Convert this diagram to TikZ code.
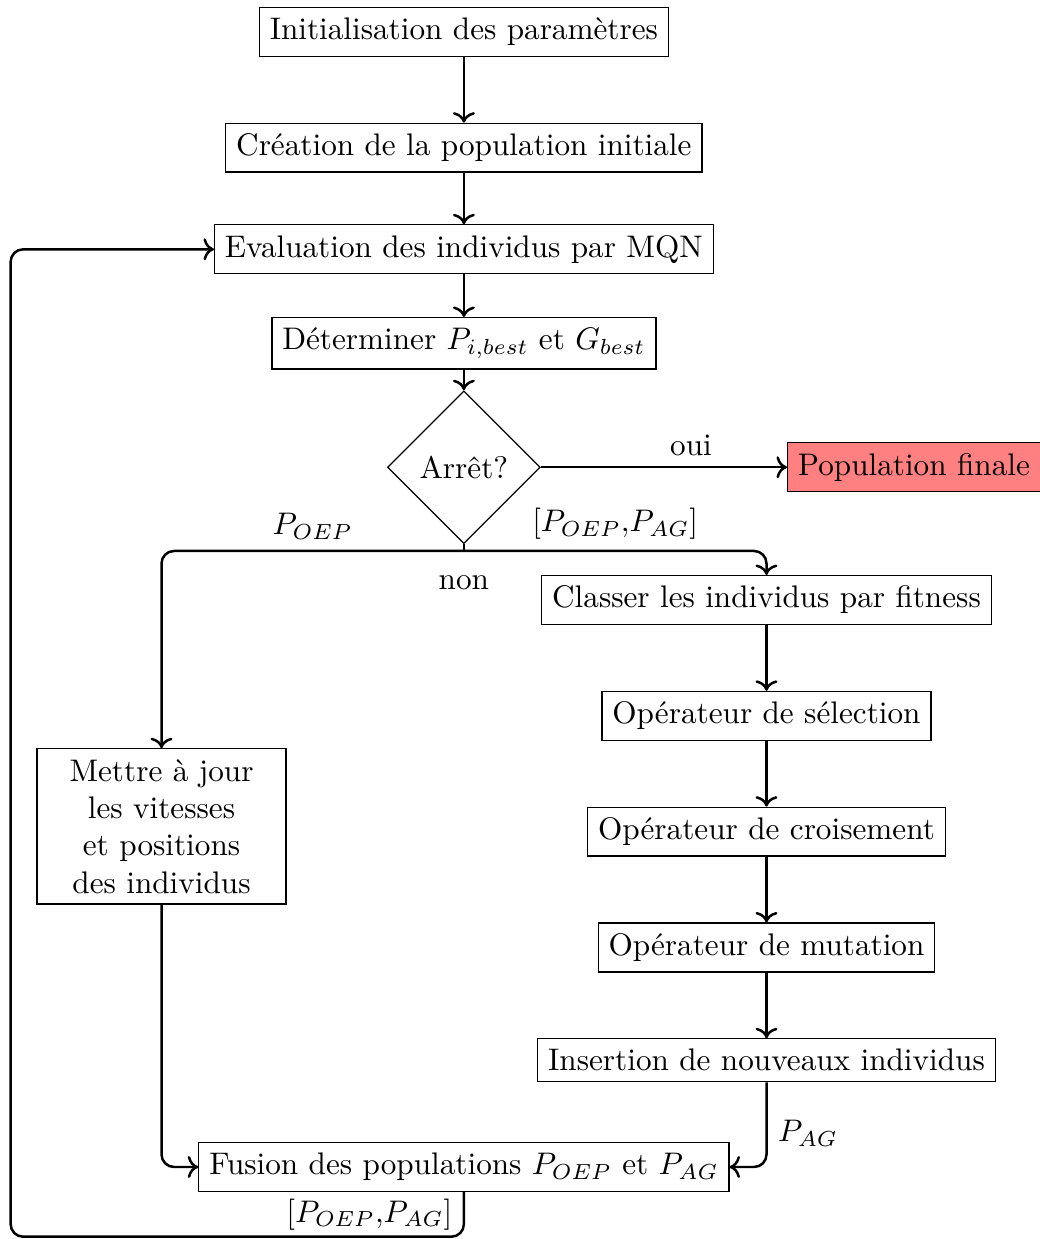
\documentclass[tikz,border=0pt]{standalone}
\usepackage{fontspec}
\usepackage{amsmath}
\usepackage{tikz}
\usetikzlibrary{arrows.meta, shapes.geometric, positioning}
\tikzset{
  etape/.style={
    rectangle, draw, thin,
    text centered
  },
  decision/.style={
    diamond, draw, thin, aspect=1,
    text centered
  },
  fleche/.style={->, thick},
  boucle/.style={->, thick, rounded corners},
}

\begin{document}
\begin{tikzpicture}[node distance=0.74cm]
  \useasboundingbox (0,0) rectangle (11.712,-13.953);
  % colonne principale
  \node[etape](init) at (5.224,-0.360){Initialisation des paramètres};
  \node[etape,below=0.74cm of init](crea){Création de la population initiale};
  \node[etape,below=0.58cm of crea](eval){Evaluation des individus par MQN};
  \node[etape,below=0.48cm of eval](det){Déterminer $P_{i,best}$ et $G_{best}$};
  \node[decision,below=0.23cm of det](arret){Arrêt?};
  \node[etape,fill=red!50,right=2.77cm of arret](popfin){Population finale};
  \coordinate[below=0.075cm of arret.south](split);
  \node[below=0.15cm of split](non){non};
  % branche AG
  \node[etape](classer) at (8.632,-6.757){Classer les individus par fitness};
  \node[etape,below=of classer](selec){Opérateur de sélection};
  \node[etape,below=of selec](crois){Opérateur de croisement};
  \node[etape,below=of crois](mutat){Opérateur de mutation};
  \node[etape,below=of mutat](insert){Insertion de nouveaux individus};
  % branche OEP
  \node[etape,text width=2.57cm,align=center](maj) at (1.819,-9.307)
       {Mettre à jour\\les vitesses\\et positions\\des individus};
  \node[etape](fusion) at (5.224,-13.142){Fusion des populations $P_{OEP}$ et $P_{AG}$};
  \coordinate(retour) at (0.12,-13.927);
  % fleches
  \draw[fleche](init.south)--(crea.north);
  \draw[fleche](crea.south)--(eval.north);
  \draw[fleche](eval.south)--(det.north);
  \draw[fleche](det.south)--(arret.north);
  \draw[fleche](arret.east)--node[above,pos=0.61]{oui}(popfin.west);
  \draw[thick](arret.south)--(split);
  \draw[boucle](split)-|node[above,pos=0.25]{$P_{OEP}$}(maj.north);
  \draw[boucle](split)-|node[above,pos=0.25]{$[P_{OEP}{,}P_{AG}]$}(classer.north);
  \draw[fleche](classer.south)--(selec.north);
  \draw[fleche](selec.south)--(crois.north);
  \draw[fleche](crois.south)--(mutat.north);
  \draw[fleche](mutat.south)--(insert.north);
  \draw[boucle](maj.south)|-(fusion.west);
  \draw[boucle](insert.south)|-node[right,pos=0.3]{$P_{AG}$}(fusion.east);
  \draw[boucle](fusion.south)--node[left]{$[P_{OEP}{,}P_{AG}]$}(fusion.south|-retour)
       --(retour)|-(eval.west);
\end{tikzpicture}
\end{document}
